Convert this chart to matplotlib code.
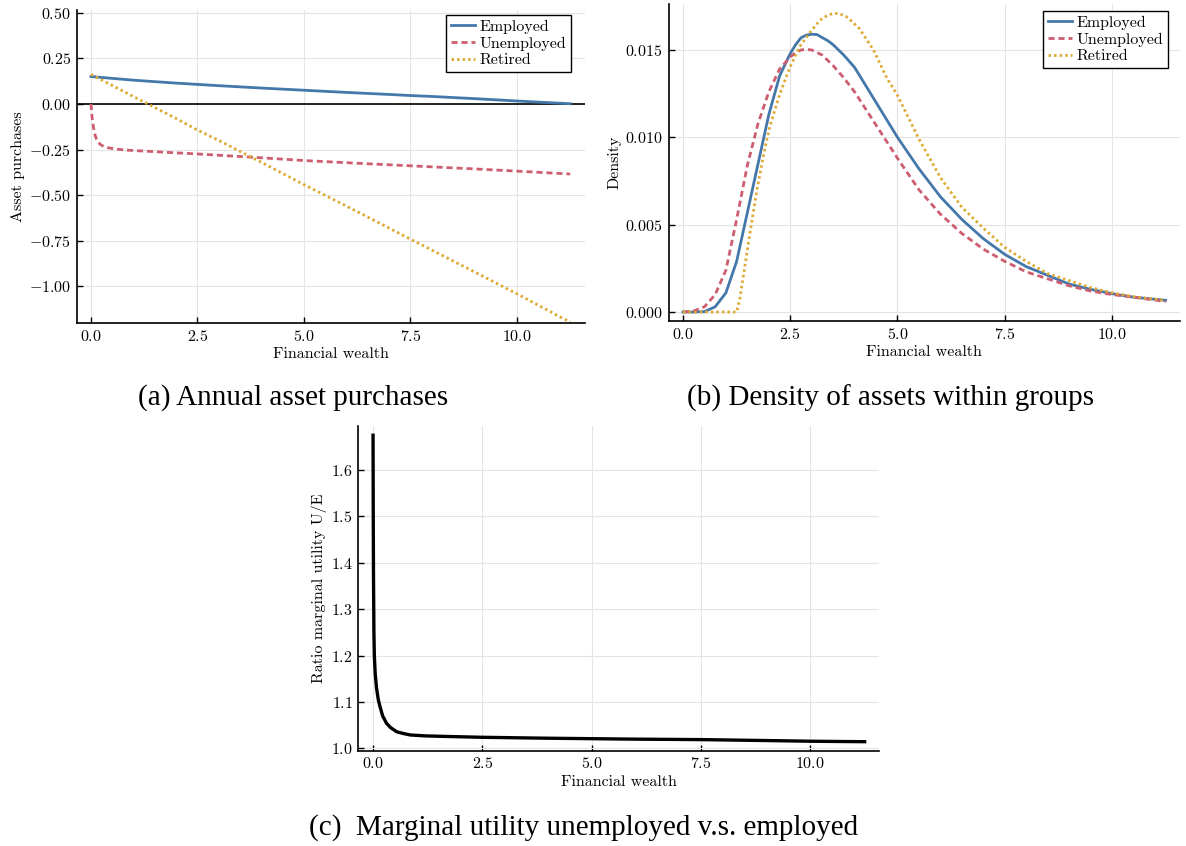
import matplotlib
matplotlib.use("Agg")
import matplotlib.pyplot as plt

# ---------------- data ----------------
# (a) Annual asset purchases
wealth_a_emp = [0, 0.5, 1, 2, 2.5, 3, 4, 5, 6, 7, 7.5, 8, 9, 10, 11.25]
purch_emp = [0.150, 0.140, 0.130, 0.114, 0.107, 0.100, 0.087, 0.075, 0.063,
             0.052, 0.046, 0.041, 0.029, 0.016, 0.001]
wealth_a_unemp = [0, 0.01, 0.02, 0.04, 0.06, 0.1, 0.15, 0.22, 0.3, 0.4, 0.6,
                  0.9, 1.3, 2, 2.5, 3, 4, 5, 6, 7.5, 9, 10, 11.25]
purch_unemp = [0.0, -0.03, -0.06, -0.10, -0.13, -0.175, -0.205, -0.222,
               -0.233, -0.240, -0.248, -0.254, -0.259, -0.268, -0.274,
               -0.281, -0.295, -0.310, -0.322, -0.339, -0.356, -0.368, -0.384]
wealth_a_ret = [0, 1, 2, 2.5, 3, 4, 5, 6, 7, 7.5, 8, 9, 10, 11, 11.25]
purch_ret = [0.162, 0.040, -0.080, -0.143, -0.200, -0.320, -0.442, -0.560,
             -0.680, -0.741, -0.800, -0.920, -1.040, -1.165, -1.195]

# (b) Density of assets within groups
wealth_b_emp = [0, 0.25, 0.5, 0.75, 1.0, 1.25, 1.5, 1.75, 2.0, 2.25, 2.5,
                2.625, 2.75, 2.875, 3.0, 3.125, 3.25, 3.375, 3.5, 3.75, 4.0,
                4.5, 5.0, 5.5, 6.0, 6.5, 7.0, 7.5, 8.0, 8.5, 9.0, 9.5, 10.0,
                10.5, 11.25]
dens_emp = [0, 0, 0.00002, 0.0003, 0.0011, 0.0029, 0.0057, 0.0085, 0.0113,
            0.0135, 0.0148, 0.0153, 0.0157, 0.01585, 0.0159, 0.01588, 0.0157,
            0.01553, 0.0153, 0.0147, 0.0140, 0.0120, 0.0100, 0.0082, 0.0066,
            0.0053, 0.0042, 0.0033, 0.0026, 0.0021, 0.0016, 0.0013, 0.00105,
            0.00085, 0.00067]
wealth_b_unemp = [0, 0.25, 0.5, 0.75, 1.0, 1.25, 1.5, 1.75, 2.0, 2.25, 2.5,
                  2.625, 2.75, 2.875, 3.0, 3.125, 3.25, 3.5, 3.75, 4.0, 4.5,
                  5.0, 5.5, 6.0, 6.5, 7.0, 7.5, 8.0, 8.5, 9.0, 9.5, 10.0,
                  10.5, 11.25]
dens_unemp = [0, 0.00006, 0.0003, 0.0010, 0.0024, 0.0053, 0.0084, 0.0108,
              0.0126, 0.0139, 0.0146, 0.01485, 0.0150, 0.01503, 0.0150,
              0.01485, 0.0147, 0.0141, 0.0134, 0.0126, 0.0107, 0.0088,
              0.0070, 0.0056, 0.0045, 0.0036, 0.0029, 0.0023, 0.0019,
              0.0015, 0.0012, 0.0010, 0.00085, 0.0006]
wealth_b_ret = [0, 0.5, 1.0, 1.25, 1.32, 1.44, 1.56, 1.71, 1.87, 2.02, 2.26,
                2.49, 2.72, 2.96, 3.19, 3.35, 3.5, 3.65, 3.81, 3.95, 4.12,
                4.44, 4.75, 5.0, 5.5, 6.0, 6.5, 7.0, 7.5, 8.0, 8.5, 9.0, 9.5,
                10.0, 10.5, 11.25]
dens_ret = [0, 0, 0, 0.0, 0.0007, 0.0026, 0.0045, 0.0068, 0.0089, 0.0106,
            0.0125, 0.0140, 0.0152, 0.0160, 0.0167, 0.01695, 0.0171, 0.01708,
            0.0169, 0.0166, 0.0162, 0.0150, 0.0134, 0.0124, 0.0099, 0.0077,
            0.0060, 0.0048, 0.0037, 0.0029, 0.0022, 0.0018, 0.0014, 0.0011,
            0.00088, 0.00066]

# (c) Marginal utility ratio U/E
wealth_c = [0, 0.005, 0.01, 0.02, 0.03, 0.05, 0.08, 0.12, 0.16, 0.22, 0.31,
            0.4, 0.54, 0.7, 0.85, 1.2, 1.6, 2.5, 4, 5, 6, 7.5, 9, 10, 11.25]
ratio_ue = [1.675, 1.50, 1.38, 1.25, 1.20, 1.16, 1.13, 1.105, 1.09, 1.07,
            1.054, 1.045, 1.036, 1.032, 1.029, 1.027, 1.026, 1.024, 1.022,
            1.021, 1.020, 1.019, 1.017, 1.0155, 1.0145]

series_labels = ["Employed", "Unemployed", "Retired"]

xticks = [0.0, 2.5, 5.0, 7.5, 10.0]
xtick_labels = ["0.0", "2.5", "5.0", "7.5", "10.0"]
yticks_a = [0.50, 0.25, 0.00, -0.25, -0.50, -0.75, -1.00]
ytick_labels_a = ["0.50", "0.25", "0.00", "\u22120.25", "\u22120.50", "\u22120.75", "\u22121.00"]
yticks_b = [0.000, 0.005, 0.010, 0.015]
ytick_labels_b = ["0.000", "0.005", "0.010", "0.015"]
yticks_c = [1.0, 1.1, 1.2, 1.3, 1.4, 1.5, 1.6]
ytick_labels_c = ["1.0", "1.1", "1.2", "1.3", "1.4", "1.5", "1.6"]

captions = ["(a) Annual asset purchases",
            "(b) Density of assets within groups",
            "(c)  Marginal utility unemployed v.s. employed"]

# ---------------- style ----------------
plt.rcParams["font.family"] = ["cmr10", "DejaVu Serif"]
plt.rcParams["mathtext.fontset"] = "cm"
plt.rcParams["axes.unicode_minus"] = False

C_EMP = "#4477AA"
C_UNEMP = "#CC5E70"
C_RET = "#DDAA33"
LW = 2.0
DASH = (0, (2.2, 1.4))
DOT = (0, (0.9, 1.1))
FS = 11.5


def mathlab(s):
    return "$" + s.replace("\u2212", "-") + "$"


def style_axes(ax, xlim, ylim, yt, ytl):
    ax.set_xlim(*xlim)
    ax.set_ylim(*ylim)
    ax.set_xticks(xticks, [mathlab(s) for s in xtick_labels])
    ax.set_yticks(yt, [mathlab(s) for s in ytl])
    for s in ("top", "right"):
        ax.spines[s].set_visible(False)
    for s in ("left", "bottom"):
        ax.spines[s].set_linewidth(1.2)
    ax.tick_params(direction="in", length=4, width=1.0, labelsize=FS, pad=4)
    ax.grid(True, color="#e4e4e4", linewidth=0.8)
    ax.set_axisbelow(True)
    ax.set_xlabel("Financial wealth", fontsize=FS, labelpad=3)


fig = plt.figure(figsize=(11.86, 8.46), dpi=100)

XLIM = (-0.3375, 11.5875)

# (a)
ax1 = fig.add_axes([0.0646, 0.6182, 0.4283, 0.3703])
ax1.axhline(0, color="black", linewidth=1.2, zorder=1.5)
ax1.plot(wealth_a_emp, purch_emp, color=C_EMP, lw=LW, label=series_labels[0])
ax1.plot(wealth_a_unemp, purch_unemp, color=C_UNEMP, lw=LW, ls=DASH, label=series_labels[1])
ax1.plot(wealth_a_ret, purch_ret, color=C_RET, lw=LW, ls=DOT, label=series_labels[2])
style_axes(ax1, XLIM, (-1.2, 0.516), yticks_a, ytick_labels_a)
ax1.set_ylabel("Asset purchases", fontsize=FS, labelpad=3)
leg = ax1.legend(loc="upper right", bbox_to_anchor=(0.973, 0.983), borderaxespad=0,
                 fontsize=FS, frameon=True, fancybox=False, edgecolor="black",
                 framealpha=1, handlelength=1.5, handletextpad=0.3,
                 labelspacing=0.15, borderpad=0.3)
leg.get_frame().set_linewidth(1.0)

# (b)
ax2 = fig.add_axes([0.5637, 0.6206, 0.4313, 0.3743])
ax2.plot(wealth_b_emp, dens_emp, color=C_EMP, lw=LW, label=series_labels[0])
ax2.plot(wealth_b_unemp, dens_unemp, color=C_UNEMP, lw=LW, ls=DASH, label=series_labels[1])
ax2.plot(wealth_b_ret, dens_ret, color=C_RET, lw=LW, ls=DOT, label=series_labels[2])
style_axes(ax2, XLIM, (-0.000513, 0.017613), yticks_b, ytick_labels_b)
ax2.set_ylabel("Density", fontsize=FS, labelpad=3)
leg = ax2.legend(loc="upper right", bbox_to_anchor=(0.9765, 0.979), borderaxespad=0,
                 fontsize=FS, frameon=True, fancybox=False, edgecolor="black",
                 framealpha=1, handlelength=1.5, handletextpad=0.3,
                 labelspacing=0.15, borderpad=0.3)
leg.get_frame().set_linewidth(1.0)

# (c)
ax3 = fig.add_axes([0.3021, 0.1127, 0.4394, 0.3837])
ax3.plot(wealth_c, ratio_ue, color="black", lw=2.4)
style_axes(ax3, XLIM, (0.9952, 1.6948), yticks_c, ytick_labels_c)
ax3.set_ylabel("Ratio marginal utility U/E", fontsize=FS, labelpad=3)

# captions
cap_font = dict(family=["Liberation Serif", "DejaVu Serif"], fontsize=21)
fig.text(293 / 1186, 1 - 398 / 846, captions[0], ha="center", va="center", **cap_font)
fig.text(890 / 1186, 1 - 398 / 846, captions[1], ha="center", va="center", **cap_font)
fig.text(584 / 1186, 1 - 828 / 846, captions[2], ha="center", va="center", **cap_font)

fig.savefig("out.png", dpi=100, facecolor="white")
